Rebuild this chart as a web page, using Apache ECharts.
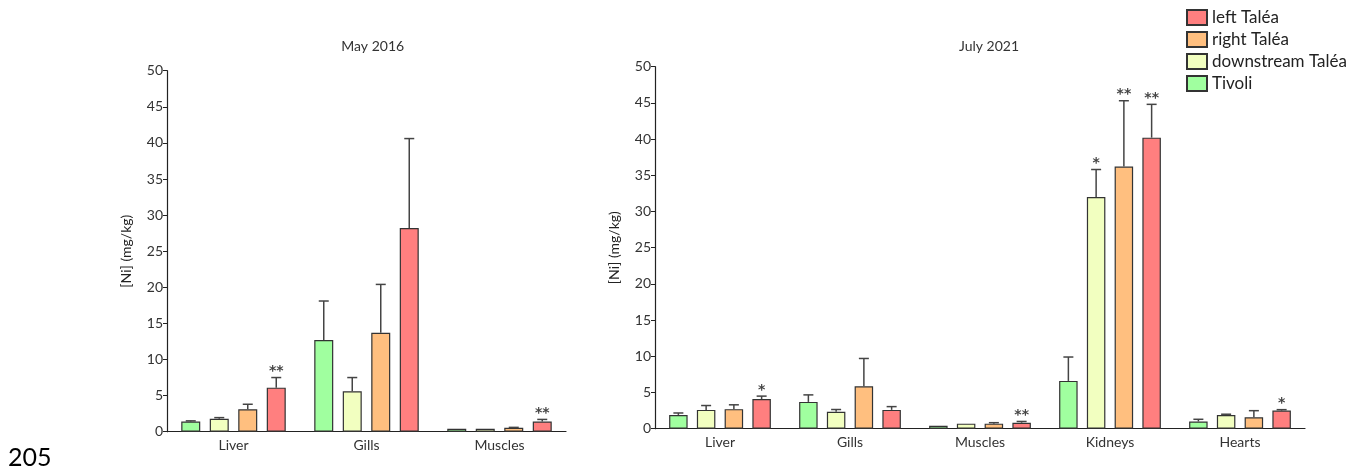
<!DOCTYPE html>
<html><head><meta charset="utf-8">
<script src="https://cdn.jsdelivr.net/npm/echarts@6/dist/echarts.min.js"></script>
<style>html,body{margin:0;padding:0;background:#fff}#c{width:1362px;height:472px}</style>
</head><body><div id="c"></div>
<script>
var seriesNames = ['Tivoli', 'downstream Taléa', 'right Taléa', 'left Taléa'];
var legendOrder = ['left Taléa', 'right Taléa', 'downstream Taléa', 'Tivoli'];
var colors = ['#a0ff9f', '#f2ffc0', '#ffbf7f', '#ff7f7f'];
var yTicks = [0, 5, 10, 15, 20, 25, 30, 35, 40, 45, 50];

// May 2016
var catsMay = ['Liver', 'Gills', 'Muscles'];
var mayTivoli = [1.4, 12.7, 0.4];
var mayTivoliErr = [0.1, 5.4, 0];
var mayDown = [1.8, 5.6, 0.4];
var mayDownErr = [0.15, 1.9, 0];
var mayRight = [3.1, 13.7, 0.55];
var mayRightErr = [0.7, 6.7, 0.05];
var mayLeft = [6.1, 28.2, 1.4];
var mayLeftErr = [1.4, 12.4, 0.3];
var mayStars = [['', '', ''], ['', '', ''], ['', '', ''], ['**', '', '**']];

// July 2021
var catsJul = ['Liver', 'Gills', 'Muscles', 'Kidneys', 'Hearts'];
var julTivoli = [1.9, 3.7, 0.4, 6.6, 1.0];
var julTivoliErr = [0.27, 0.97, 0, 3.3, 0.3];
var julDown = [2.6, 2.35, 0.7, 32.0, 1.9];
var julDownErr = [0.6, 0.3, 0, 3.8, 0.1];
var julRight = [2.7, 5.85, 0.7, 36.2, 1.57];
var julRightErr = [0.6, 3.85, 0.13, 9.1, 0.92];
var julLeft = [4.1, 2.6, 0.83, 40.2, 2.5];
var julLeftErr = [0.4, 0.45, 0.17, 4.6, 0.13];
var julStars = [['', '', '', '', ''], ['', '', '', '*', ''], ['', '', '', '**', ''], ['*', '', '**', '**', '*']];

var FONT = 'Lato';
var chart = echarts.init(document.getElementById('c'));

var mayVals = [mayTivoli, mayDown, mayRight, mayLeft];
var mayErrs = [mayTivoliErr, mayDownErr, mayRightErr, mayLeftErr];
var julVals = [julTivoli, julDown, julRight, julLeft];
var julErrs = [julTivoliErr, julDownErr, julRightErr, julLeftErr];

var series = [];
function addPanel(gi, vals, errs, stars, bw) {
  for (var s = 0; s < 4; s++) {
    series.push({
      type: 'bar', name: seriesNames[s], xAxisIndex: gi, yAxisIndex: gi,
      data: vals[s], barWidth: bw, barGap: '50%',
      itemStyle: { color: colors[s], borderColor: '#333', borderWidth: 1.2 },
      emphasis: { disabled: true }, z: 2
    });
  }
  for (var s2 = 0; s2 < 4; s2++) {
    (function (s) {
      var data = vals[s].map(function (v, i) { return [i, v + errs[s][i], v]; });
      series.push({
        type: 'custom', xAxisIndex: gi, yAxisIndex: gi, z: 5, silent: true,
        clip: false,
        data: data,
        encode: { x: 0, y: 1 },
        renderItem: function (params, api) {
          var i = params.dataIndex;
          var center = api.coord([api.value(0), 0]);
          var x = center[0] + (s - 1.5) * bw * 1.5;
          var yTop = api.coord([api.value(0), api.value(1)])[1];
          var yBar = api.coord([api.value(0), api.value(2)])[1];
          var ch = [];
          var st = { stroke: '#444', lineWidth: 1.5 };
          if (errs[s][i] > 0) {
            ch.push({ type: 'line', shape: { x1: x, y1: yBar, x2: x, y2: yTop }, style: st });
            ch.push({ type: 'line', shape: { x1: x - 5, y1: yTop, x2: x + 5, y2: yTop }, style: st });
          }
          var t = stars[s][i];
          if (t) {
            ch.push({ type: 'text', style: { text: t, x: x, y: yTop + 1, align: 'center', verticalAlign: 'bottom', fontSize: 14, fontWeight: 'bold', fontFamily: 'DejaVu Sans', fill: '#444' } });
          }
          return { type: 'group', children: ch };
        }
      });
    })(s2);
  }
}
addPanel(0, mayVals, mayErrs, mayStars, 19);
addPanel(1, julVals, julErrs, julStars, 18.5);

function yAxis(gi) {
  return {
    type: 'value', gridIndex: gi, min: yTicks[0], max: yTicks[yTicks.length - 1], interval: 5,
    name: '[Ni] (mg/kg)', nameLocation: 'middle', nameRotate: 90, nameGap: 34,
    nameTextStyle: { fontSize: 14, fontFamily: FONT, color: '#222' },
    axisLine: { show: true, lineStyle: { color: '#222', width: 1.2 } },
    axisTick: { show: true, length: 4, lineStyle: { color: '#222' } },
    axisLabel: { fontSize: 14, fontFamily: FONT, color: '#333', margin: 4 },
    splitLine: { show: false }
  };
}
function xAxis(gi, cats) {
  return {
    type: 'category', gridIndex: gi, data: cats,
    axisLine: { lineStyle: { color: '#222', width: 1.2 } },
    axisTick: { alignWithLabel: true, length: 5, lineStyle: { color: '#222' } },
    axisLabel: { fontSize: 14, fontFamily: FONT, color: '#333', margin: 7 }
  };
}

chart.setOption({
  animation: false,
  textStyle: { fontFamily: FONT },
  grid: [
    { left: 167, top: 70.7, width: 399, bottom: 40.3 },
    { left: 655, top: 66.7, width: 650, bottom: 43.3 }
  ],
  xAxis: [xAxis(0, catsMay), xAxis(1, catsJul)],
  yAxis: [yAxis(0), yAxis(1)],
  legend: {
    data: legendOrder, orient: 'vertical', left: 1181, top: 4,
    itemWidth: 20, itemHeight: 15, itemGap: 5, icon: 'rect',
    textStyle: { fontSize: 17, fontFamily: FONT, color: '#222' }
  },
  graphic: [
    { type: 'text', x: 372.7, y: 46.7, style: { text: 'May 2016', fontSize: 14, fontFamily: FONT, fill: '#333', align: 'center', verticalAlign: 'middle' } },
    { type: 'text', x: 989, y: 46.7, style: { text: 'July 2021', fontSize: 14, fontFamily: FONT, fill: '#333', align: 'center', verticalAlign: 'middle' } },
    { type: 'text', x: 8, y: 457.5, style: { text: '205', fontSize: 25, fontFamily: FONT, fill: '#000', verticalAlign: 'middle' } }
  ],
  series: series
});
</script></body></html>
